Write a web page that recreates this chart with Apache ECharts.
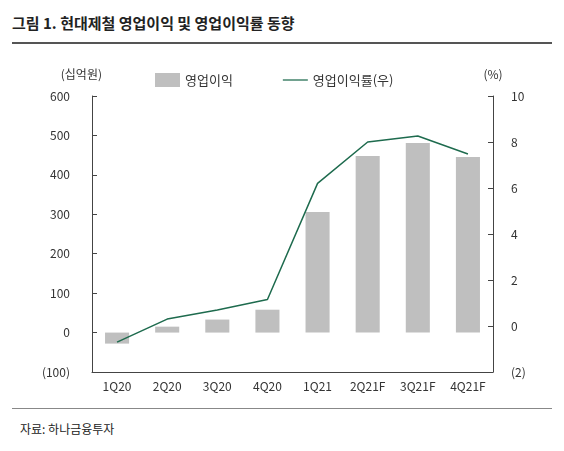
<!DOCTYPE html>
<html><head><meta charset="utf-8">
<script src="https://cdn.jsdelivr.net/npm/echarts@6/dist/echarts.min.js"></script>
<style>
body{margin:0;background:#fff;font-family:"Noto Sans CJK KR",sans-serif}
#title{position:absolute;left:12px;top:12px;font-size:15px;font-weight:bold;color:#222}
#top{position:absolute;left:12px;top:42px;width:540px;border-top:2px solid #555}
#bot{position:absolute;left:12px;top:408px;width:540px;border-top:1px solid #888}
#src{position:absolute;left:20px;top:420px;font-size:12px;color:#222}
#chart{position:absolute;left:0;top:50px;width:564px;height:350px}
</style></head><body>
<div id="title">그림 1. 현대제철 영업이익 및 영업이익률 동향</div>
<div id="top"></div>
<div id="chart"></div>
<div id="bot"></div>
<div id="src">자료: 하나금융투자</div>
<script>
var categories = ['1Q20','2Q20','3Q20','4Q20','1Q21','2Q21F','3Q21F','4Q21F'];
var opProfit = [-28, 15, 33, 58, 306, 448, 481, 445];
var opMargin = [-0.7, 0.3, 0.7, 1.15, 6.2, 8.0, 8.26, 7.48];

var chartDom = document.getElementById('chart');
var myChart = echarts.init(chartDom);
var neg = function (v) { return v < 0 ? '(' + (-v) + ')' : v; };
var option = {
  animation: false,
  textStyle: {fontFamily: '"Noto Sans CJK KR", sans-serif'},
  grid: {left: 92, right: 71, top: 46, bottom: 28},
  legend: {
    top: 18, left: 150, itemGap: 50, selectedMode: false,
    textStyle: {fontSize: 13, color: '#333'},
    data: [{name: '영업이익', icon: 'rect', itemWidth: 38, itemHeight: 13},
           {name: '영업이익률(우)', icon: 'path://M0,0H40V2H0Z', itemWidth: 40, itemHeight: 2}]
  },
  xAxis: {
    type: 'category', data: categories,
    axisLine: {onZero: false, lineStyle: {color: '#444'}},
    axisTick: {show: false},
    axisLabel: {color: '#333', fontSize: 12}
  },
  yAxis: [
    {type: 'value', min: -100, max: 600, interval: 100, name: '(십억원)', nameGap: 16,
     nameTextStyle: {color: '#333', fontSize: 12, align: 'right', padding: [0, -10, 0, 0]},
     axisLine: {show: true, lineStyle: {color: '#444'}},
     axisTick: {show: true, inside: true}, splitLine: {show: false},
     axisLabel: {color: '#333', fontSize: 12, formatter: neg, margin: 22}},
    {type: 'value', min: -2, max: 10, interval: 2, name: '(%)', nameGap: 16,
     nameTextStyle: {color: '#333', fontSize: 12},
     axisLine: {show: true, lineStyle: {color: '#444'}},
     axisTick: {show: true, inside: true}, splitLine: {show: false},
     axisLabel: {color: '#333', fontSize: 12, formatter: neg, margin: 18}}
  ],
  series: [
    {name: '영업이익', type: 'bar', data: opProfit, barWidth: '48%',
     itemStyle: {color: '#bfbfbf'}},
    {name: '영업이익률(우)', type: 'line', yAxisIndex: 1, data: opMargin,
     symbol: 'none', lineStyle: {color: '#1e6b4e', width: 1.5}, itemStyle: {color: '#1e6b4e'}}
  ]
};
myChart.setOption(option);
</script>
</body></html>
